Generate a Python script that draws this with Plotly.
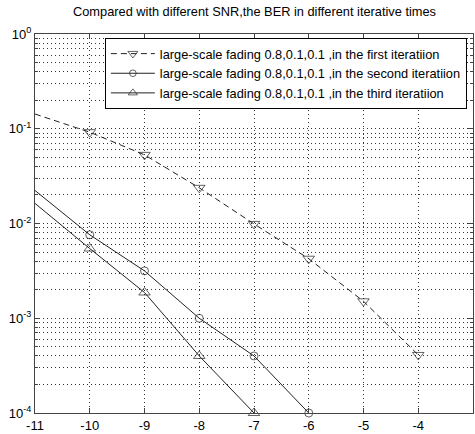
import plotly.graph_objects as go

# Data
snr_first = [-11, -10, -9, -8, -7, -6, -5, -4]
ber_first = [0.143, 0.092, 0.053, 0.0238, 0.0099, 0.00425, 0.00151, 0.00041]

snr_second = [-11, -10, -9, -8, -7, -6]
ber_second = [0.0223, 0.0076, 0.00316, 0.001, 0.0004, 0.0001]

snr_third = [-11, -10, -9, -8, -7]
ber_third = [0.0163, 0.00544, 0.00187, 0.0004, 0.0001]

names = [
    "large-scale fading 0.8,0.1,0.1 ,in the first iteratiion",
    "large-scale fading 0.8,0.1,0.1 ,in the second iteratiion",
    "large-scale fading 0.8,0.1,0.1 ,in the third iteratiion",
]

x_ticks = [-11, -10, -9, -8, -7, -6, -5, -4, -3]
y_ticks = [1, 0.1, 0.01, 0.001, 0.0001]
y_ticktext = ["10<sup>0</sup>", "10<sup>-1</sup>", "10<sup>-2</sup>", "10<sup>-3</sup>", "10<sup>-4</sup>"]

minor_y = [m * 10 ** e for e in range(-4, 0) for m in range(2, 10)]

FONT = "Liberation Sans, Arial, sans-serif"
LC = "#222222"
GRID = "#333333"
GDASH = "1px,3px"


def sizes(xs, s):
    # first point (at the left axis limit) is drawn without a marker
    return [0] + [s] * (len(xs) - 1)


fig = go.Figure()
fig.add_trace(go.Scatter(
    x=snr_first, y=ber_first, name=names[0], mode="lines+markers",
    line=dict(color=LC, width=1, dash="6px,4px"),
    marker=dict(symbol="triangle-down-open", size=sizes(snr_first, 10), color=LC, line=dict(width=1, color=LC)),
    cliponaxis=False,
))
fig.add_trace(go.Scatter(
    x=snr_second, y=ber_second, name=names[1], mode="lines+markers",
    line=dict(color=LC, width=1),
    marker=dict(symbol="circle-open", size=sizes(snr_second, 8), color=LC, line=dict(width=1, color=LC)),
    cliponaxis=False,
))
fig.add_trace(go.Scatter(
    x=snr_third, y=ber_third, name=names[2], mode="lines+markers",
    line=dict(color=LC, width=1),
    marker=dict(symbol="triangle-up-open", size=sizes(snr_third, 10), color=LC, line=dict(width=1, color=LC)),
    cliponaxis=False,
))

fig.update_layout(
    width=475, height=434,
    margin=dict(l=35, r=1, t=34, b=17),
    paper_bgcolor="white", plot_bgcolor="white",
    font=dict(family=FONT, size=13, color="black"),
    title=dict(text="Compared with different SNR,the BER in different iterative times",
               x=(35 + 474) / 2 / 475, xanchor="center", y=1 - 12 / 434, yanchor="middle",
               font=dict(size=12.8, family=FONT, color="black")),
    showlegend=True,
    legend=dict(x=0.986, xanchor="right", y=0.99, yanchor="top",
                bgcolor="white", bordercolor="black", borderwidth=1,
                font=dict(size=12.8, family=FONT, color="black"),
                tracegroupgap=0, itemwidth=44),
)

fig.update_xaxes(
    range=[-11, -3], tickvals=x_ticks, ticktext=[str(v) for v in x_ticks],
    showline=True, linecolor="#444", linewidth=1, mirror="ticks",
    ticks="inside", ticklen=5, tickcolor="#444",
    showgrid=True, gridcolor=GRID, griddash=GDASH, gridwidth=1,
    zeroline=False, tickfont=dict(size=13, family=FONT, color="black"),
)
fig.update_yaxes(
    type="log", range=[-4, 0], tickvals=y_ticks, ticktext=y_ticktext,
    showline=True, linecolor="#444", linewidth=1, mirror="ticks",
    ticks="inside", ticklen=5, tickcolor="#444",
    showgrid=True, gridcolor=GRID, griddash=GDASH, gridwidth=1,
    minor=dict(tickvals=minor_y, showgrid=True, gridcolor=GRID, griddash=GDASH,
               gridwidth=1, ticks="inside", ticklen=3, tickcolor="#444"),
    zeroline=False, tickfont=dict(size=13, family=FONT, color="black"),
)

fig.write_html("out.html")
